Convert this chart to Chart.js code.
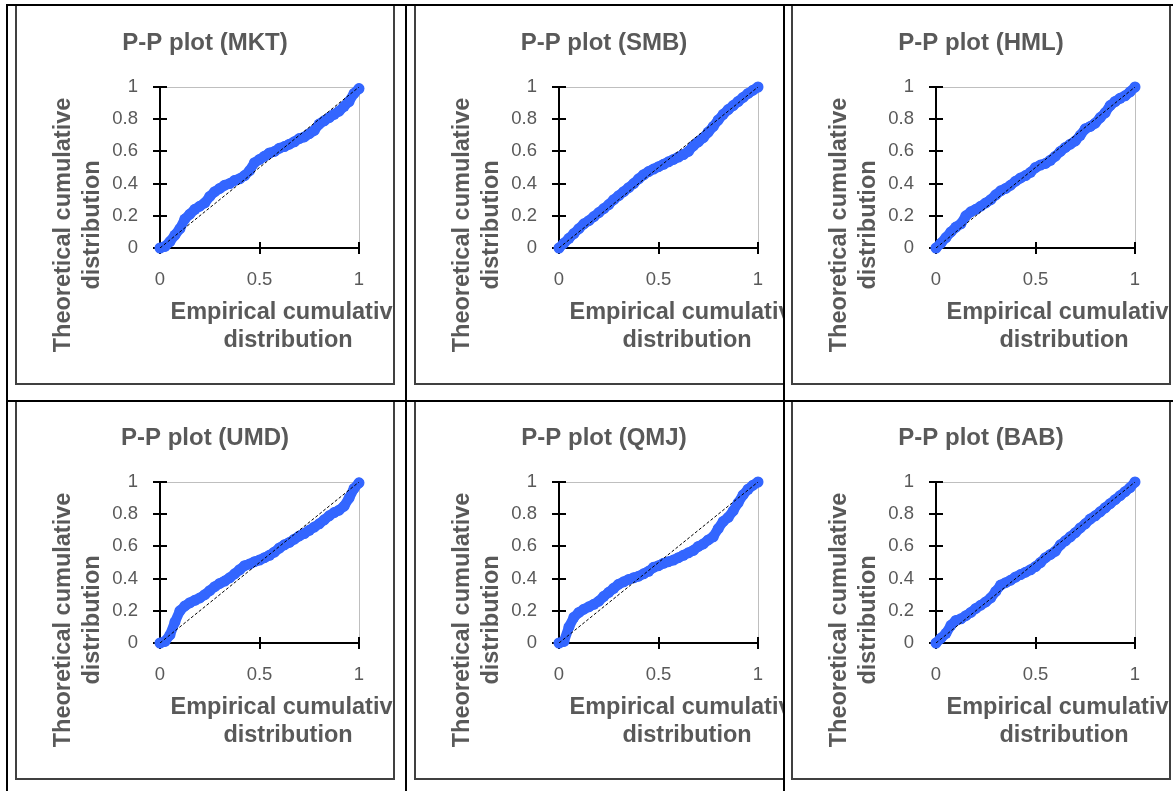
<!DOCTYPE html>
<html>
<head>
<meta charset="utf-8">
<script src="https://cdn.jsdelivr.net/npm/chart.js@4.4.1/dist/chart.umd.min.js"></script>
<style>
  html, body { margin: 0; padding: 0; background: #fff; }
  body { width: 1173px; height: 791px; position: relative; overflow: hidden; }
  .rule { position: absolute; background: #000; z-index: 5; }
  .cell { position: absolute; overflow: hidden; }
  .frame { position: absolute; width: 376px; height: 377px; border: 2px solid #404040; background: #fff; }
  .frame canvas { display: block; }
</style>
</head>
<body>
<!-- table rules -->
<div class="rule" style="left:6px;top:4px;width:1167px;height:2px"></div>
<div class="rule" style="left:6px;top:400px;width:1167px;height:2px"></div>
<div class="rule" style="left:6px;top:4px;width:2px;height:787px"></div>
<div class="rule" style="left:405px;top:4px;width:2px;height:787px"></div>
<div class="rule" style="left:783px;top:4px;width:2px;height:787px"></div>

<!-- cells, each holding one chart frame -->
<div class="cell" style="left:8px;top:6px;width:397px;height:394px"><div class="frame" style="left:7px;top:-2px"><canvas id="c0" width="376" height="377"></canvas></div></div>
<div class="cell" style="left:407px;top:6px;width:376px;height:394px"><div class="frame" style="left:7px;top:-2px"><canvas id="c1" width="376" height="377"></canvas></div></div>
<div class="cell" style="left:785px;top:6px;width:388px;height:394px"><div class="frame" style="left:6px;top:-2px"><canvas id="c2" width="376" height="377"></canvas></div></div>
<div class="cell" style="left:8px;top:402px;width:397px;height:389px"><div class="frame" style="left:7px;top:-3px"><canvas id="c3" width="376" height="377"></canvas></div></div>
<div class="cell" style="left:407px;top:402px;width:376px;height:389px"><div class="frame" style="left:7px;top:-3px"><canvas id="c4" width="376" height="377"></canvas></div></div>
<div class="cell" style="left:785px;top:402px;width:388px;height:389px"><div class="frame" style="left:6px;top:-3px"><canvas id="c5" width="376" height="377"></canvas></div></div>

<script>
// Empirical cumulative distribution (x) shared by all panels
const empirical = [0, 0.025, 0.05, 0.075, 0.1, 0.125, 0.15, 0.175, 0.2, 0.225, 0.25, 0.275, 0.3, 0.325, 0.35, 0.375, 0.4, 0.425, 0.45, 0.475, 0.5,
                   0.525, 0.55, 0.575, 0.6, 0.625, 0.65, 0.675, 0.7, 0.725, 0.75, 0.775, 0.8, 0.825, 0.85, 0.875, 0.9, 0.925, 0.95, 0.975, 1];

// Theoretical cumulative distribution (y) per factor
const mkt = [0, 0.01, 0.04, 0.08, 0.12, 0.18, 0.21, 0.24, 0.26, 0.28, 0.32, 0.35, 0.37, 0.39, 0.40, 0.42, 0.43, 0.45, 0.48, 0.53, 0.55,
             0.57, 0.59, 0.60, 0.62, 0.63, 0.645, 0.66, 0.68, 0.69, 0.71, 0.73, 0.77, 0.79, 0.81, 0.83, 0.85, 0.88, 0.91, 0.96, 0.99];
const smb = [0, 0.03, 0.06, 0.09, 0.12, 0.15, 0.17, 0.195, 0.22, 0.245, 0.27, 0.30, 0.325, 0.35, 0.375, 0.40, 0.43, 0.455, 0.475, 0.49, 0.505,
             0.52, 0.535, 0.55, 0.565, 0.58, 0.60, 0.635, 0.66, 0.685, 0.72, 0.755, 0.795, 0.83, 0.86, 0.885, 0.91, 0.935, 0.96, 0.98, 1];
const hml = [0, 0.03, 0.065, 0.10, 0.13, 0.15, 0.20, 0.225, 0.24, 0.26, 0.28, 0.30, 0.33, 0.355, 0.37, 0.39, 0.415, 0.435, 0.45, 0.47, 0.50,
             0.515, 0.525, 0.545, 0.57, 0.60, 0.625, 0.645, 0.665, 0.70, 0.74, 0.755, 0.775, 0.81, 0.84, 0.885, 0.91, 0.93, 0.945, 0.97, 1];
const umd = [0, 0.01, 0.05, 0.13, 0.20, 0.23, 0.25, 0.265, 0.28, 0.30, 0.325, 0.35, 0.37, 0.385, 0.405, 0.43, 0.455, 0.48, 0.49, 0.505, 0.515,
             0.53, 0.545, 0.565, 0.59, 0.61, 0.625, 0.645, 0.665, 0.68, 0.70, 0.72, 0.74, 0.765, 0.79, 0.81, 0.825, 0.85, 0.90, 0.96, 0.995];
const qmj = [0, 0.01, 0.10, 0.16, 0.19, 0.21, 0.225, 0.24, 0.26, 0.29, 0.315, 0.34, 0.365, 0.38, 0.395, 0.405, 0.415, 0.43, 0.445, 0.47, 0.48,
             0.495, 0.505, 0.515, 0.53, 0.545, 0.56, 0.575, 0.60, 0.615, 0.64, 0.66, 0.71, 0.755, 0.78, 0.82, 0.87, 0.92, 0.955, 0.98, 1];
const bab = [0, 0.03, 0.06, 0.11, 0.14, 0.15, 0.17, 0.19, 0.215, 0.235, 0.255, 0.28, 0.32, 0.36, 0.375, 0.39, 0.41, 0.425, 0.44, 0.455, 0.475,
             0.50, 0.53, 0.55, 0.57, 0.61, 0.635, 0.66, 0.685, 0.715, 0.74, 0.77, 0.79, 0.815, 0.84, 0.865, 0.89, 0.915, 0.94, 0.965, 1];

const factors = ['MKT', 'SMB', 'HML', 'UMD', 'QMJ', 'BAB'];
const theoretical = [mkt, smb, hml, umd, qmj, bab];

// 45-degree reference line and axis ticks
const diagonal = [0, 1];
const xTicks = [0, 0.5, 1];
const yTicks = [0, 0.2, 0.4, 0.6, 0.8, 1];

const FONT = '"Liberation Sans", Arial, sans-serif';
const GREY = '#595959';
const BLUE = '#3366FF';

// Excel-like decorations: light plot border, cross tick marks, chart and axis titles
const ppDecor = {
    id: 'ppDecor',
    beforeDraw(chart) {
        const { ctx, chartArea: a } = chart;
        ctx.save();
        ctx.strokeStyle = '#bfbfbf';
        ctx.lineWidth = 1;
        ctx.beginPath();
        ctx.moveTo(a.left, a.top + 0.5);
        ctx.lineTo(a.right + 0.5, a.top + 0.5);
        ctx.lineTo(a.right + 0.5, a.bottom);
        ctx.stroke();
        ctx.restore();
    },
    beforeDatasetsDraw(chart) {
        // inner half of the crossing tick marks
        const { ctx, chartArea: a, scales } = chart;
        ctx.save();
        ctx.strokeStyle = '#000';
        ctx.lineWidth = 2;
        ctx.beginPath();
        scales.y.ticks.forEach(t => {
            const py = Math.round(scales.y.getPixelForValue(t.value));
            ctx.moveTo(a.left, py);
            ctx.lineTo(a.left + 7, py);
        });
        scales.x.ticks.forEach(t => {
            const px = Math.round(scales.x.getPixelForValue(t.value));
            ctx.moveTo(px, a.bottom);
            ctx.lineTo(px, a.bottom - 6);
        });
        ctx.stroke();
        ctx.restore();
    },
    afterDraw(chart, args, opts) {
        const { ctx, chartArea: a } = chart;
        ctx.save();
        ctx.fillStyle = GREY;
        ctx.textAlign = 'center';
        ctx.textBaseline = 'middle';
        // chart title, centred on the whole chart frame
        ctx.font = 'bold 24px ' + FONT;
        ctx.fillText(opts.title, chart.width / 2, 37);
        ctx.font = 'bold 23.5px ' + FONT;
        // y title, two rotated lines
        [['Theoretical cumulative', 96], ['distribution', 67]].forEach(([txt, off]) => {
            ctx.save();
            ctx.translate(a.left - off, a.top + 138);
            ctx.rotate(-Math.PI / 2);
            ctx.fillText(txt, 0, 0);
            ctx.restore();
        });
        // x title, two lines (first one runs past the frame and gets cut)
        ctx.fillText('Empirical cumulative', a.left + 128, a.bottom + 65);
        ctx.fillText('distribution', a.left + 128, a.bottom + 93);
        ctx.restore();
    }
};

function makeChart(idx) {
    const ctx = document.getElementById('c' + idx).getContext('2d');
    const values = theoretical[idx];
    return new Chart(ctx, {
        type: 'scatter',
        data: {
            datasets: [
                {
                    label: 'Reference',
                    data: diagonal.map(v => ({ x: v, y: v })),
                    showLine: true,
                    borderColor: '#000',
                    borderWidth: 1,
                    borderDash: [3, 2],
                    pointRadius: 0,
                    order: 0
                },
                {
                    label: factors[idx],
                    data: empirical.map((x, i) => ({ x: x, y: values[i] })),
                    showLine: true,
                    borderColor: BLUE,
                    borderWidth: 10,
                    borderJoinStyle: 'round',
                    borderCapStyle: 'round',
                    backgroundColor: BLUE,
                    pointRadius: 5.5,
                    pointBorderWidth: 0,
                    clip: false,
                    order: 1
                }
            ]
        },
        options: {
            responsive: false,
            devicePixelRatio: 1,
            animation: false,
            events: [],
            layout: { padding: { left: 0, right: 34, top: 81, bottom: 0 } },
            scales: {
                x: {
                    type: 'linear',
                    min: 0,
                    max: 1,
                    afterBuildTicks: s => { s.ticks = xTicks.map(v => ({ value: v })); },
                    afterFit: s => { s.height = 135; },
                    grid: { drawOnChartArea: false, color: '#000', lineWidth: 2, tickLength: 6 },
                    border: { color: '#000', width: 2 },
                    ticks: { color: GREY, font: { family: FONT, size: 18.5 }, padding: 15, maxRotation: 0, callback: v => String(v) }
                },
                y: {
                    type: 'linear',
                    min: 0,
                    max: 1,
                    afterBuildTicks: s => { s.ticks = yTicks.map(v => ({ value: v })); },
                    afterFit: s => { s.width = 143; },
                    grid: { drawOnChartArea: false, color: '#000', lineWidth: 2, tickLength: 7 },
                    border: { color: '#000', width: 2 },
                    ticks: { color: GREY, font: { family: FONT, size: 18.5 }, padding: 15, callback: v => String(v) }
                }
            },
            plugins: {
                legend: { display: false },
                tooltip: { enabled: false },
                title: { display: false },
                ppDecor: { title: 'P-P plot (' + factors[idx] + ')' }
            }
        },
        plugins: [ppDecor]
    });
}

factors.forEach((f, i) => makeChart(i));
</script>
</body>
</html>
